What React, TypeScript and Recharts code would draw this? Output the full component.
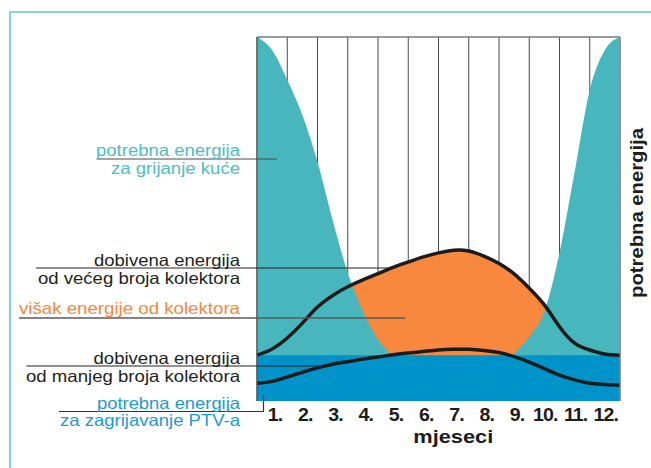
import React from "react";
import {
  ComposedChart,
  Area,
  Line,
  XAxis,
  YAxis,
  CartesianGrid,
  ReferenceLine,
} from "recharts";

// x positions in months (half-month steps), 0 = start of January
const steps = [0, 0.5, 1, 1.5, 2, 2.5, 3, 3.5, 4, 4.5, 5, 5.5, 6, 6.5, 7, 7.5, 8, 8.5, 9, 9.5, 10, 10.5, 11, 11.5, 12];

// potrebna energija za grijanje kuće
const heating = [100, 96.4, 88.2, 78.6, 65.7, 49.7, 35.2, 24.5, 16.8, 12.4, 10, 10, 10, 10, 10, 10, 10, 13.2, 17.6, 24.5, 40.7, 62.9, 85.4, 96.4, 100];
// dobivena energija od većeg broja kolektora
const bigCollectors = [12.6, 14.3, 17.3, 21.4, 25.8, 29.0, 31.4, 33.3, 35.0, 36.7, 38.2, 39.6, 40.7, 41.4, 41.2, 39.8, 37.8, 34.9, 31.0, 26.4, 20.4, 15.9, 14.0, 12.9, 12.6];
// dobivena energija od manjeg broja kolektora
const smallCollectors = [4.9, 5.4, 6.6, 7.9, 9.1, 10.1, 10.8, 11.5, 12.1, 12.7, 13.2, 13.6, 14.0, 14.2, 14.2, 13.9, 13.3, 12.2, 10.7, 8.9, 7.1, 5.8, 4.9, 4.5, 4.3];
// potrebna energija za zagrijavanje PTV-a
const hotWater = [12.6, 12.6, 12.6, 12.6, 12.6, 12.6, 12.6, 12.6, 12.6, 12.6, 12.6, 12.6, 12.6, 12.6, 12.6, 12.6, 12.6, 12.6, 12.6, 12.6, 12.6, 12.6, 12.6, 12.6, 12.6];

const monthCenters = [0.5, 1.5, 2.5, 3.5, 4.5, 5.5, 6.5, 7.5, 8.5, 9.5, 10.5, 11.5];
const monthLabels = ["1.", "2.", "3.", "4.", "5.", "6.", "7.", "8.", "9.", "10.", "11.", "12."];
const boundaries = [0, 1, 2, 3, 4, 5, 6, 7, 8, 9, 10, 11, 12];

const data = steps.map((m, i) => ({
  m,
  heating: heating[i],
  big: bigCollectors[i],
  small: smallCollectors[i],
  water: hotWater[i],
}));

const FONT = '"Liberation Sans", Arial, Helvetica, sans-serif';
const TEAL = "#47b7bd";
const ORANGE = "#f7883d";
const BLUE = "#0093c9";
const INK = "#1c1c1c";

const MonthTick = (props: any) => {
  const { x, y, payload } = props;
  const label = monthLabels[monthCenters.indexOf(payload.value)];
  const dx = label.length > 2 ? 1 : 3;
  return (
    <text
      transform={`translate(${x + dx},${y}) scale(1.12,1)`}
      dy="0.71em"
      textAnchor="middle"
      fontFamily={FONT}
      fontWeight={700}
      fontSize={17.5}
      letterSpacing={-0.8}
      fill={INK}
    >
      {label}
    </text>
  );
};

// callout texts on the left
const callouts = [
  { text: "potrebna energija", y: 156, len: 144, color: "#4dbdc4" },
  { text: "za grijanje kuće", y: 174, len: 129, color: "#4dbdc4" },
  { text: "dobivena energija", y: 265.5, len: 146, color: "#231f20" },
  { text: "od većeg broja kolektora", y: 283.5, len: 202, color: "#231f20" },
  { text: "višak energije od kolektora", y: 313.5, len: 221, color: "#f58840" },
  { text: "dobivena energija", y: 363.5, len: 146.5, color: "#231f20" },
  { text: "od manjeg broja kolektora", y: 381.5, len: 214, color: "#231f20" },
  { text: "potrebna energija", y: 408.5, len: 143, color: "#1c9ad6" },
  { text: "za zagrijavanje PTV-a", y: 426, len: 180, color: "#1c9ad6" },
];

const Overlay = () => (
  <svg
    width={651}
    height={468}
    style={{ position: "absolute", left: 0, top: 0, pointerEvents: "none" }}
  >
    {/* frame */}
    <polyline points="10,468 10,12 651,12" fill="none" stroke="#62c7c9" strokeWidth={1.6} />

    {/* leader lines */}
    <line x1={96.5} y1={159} x2={277} y2={159} stroke="#4a4a4a" strokeWidth={1.2} />
    <line x1={36} y1={268} x2={388} y2={268} stroke="#222" strokeWidth={1.2} />
    <line x1={19} y1={318} x2={405} y2={318} stroke="#5a5a5a" strokeWidth={1.6} />
    <line x1={26.5} y1={366} x2={322} y2={366} stroke="#222" strokeWidth={1.2} />
    <polyline points="59,411.5 263.5,411.5 263.5,395" fill="none" stroke="#333" strokeWidth={1.2} />

    {callouts.map((c, i) => (
      <text
        key={i}
        x={240}
        y={c.y}
        textAnchor="end"
        textLength={c.len}
        lengthAdjust="spacingAndGlyphs"
        fontFamily={FONT}
        fontSize={16.5}
        fill={c.color}
      >
        {c.text}
      </text>
    ))}

    {/* axis titles */}
    <text
      x={453.3}
      y={442.5}
      textAnchor="middle"
      textLength={80}
      lengthAdjust="spacingAndGlyphs"
      fontFamily={FONT}
      fontWeight={700}
      fontSize={19}
      fill={INK}
    >
      mjeseci
    </text>
    <text
      transform="translate(643,213) rotate(-90)"
      textAnchor="middle"
      textLength={170}
      lengthAdjust="spacingAndGlyphs"
      fontFamily={FONT}
      fontWeight={700}
      fontSize={18}
      fill={INK}
    >
      potrebna energija
    </text>
  </svg>
);

const App = () => {
  return (
    <div
      style={{
        position: "absolute",
        left: 0,
        top: 0,
        width: 651,
        height: 468,
        background: "#fff",
      }}
    >
      <ComposedChart
        width={651}
        height={468}
        data={data}
        margin={{ top: 37, right: 31, bottom: 17, left: 257 }}
      >
        {/* vertical month lines, from the hidden boundary axis */}
        <CartesianGrid xAxisId="grid" horizontal={false} stroke="#4a4a4a" strokeWidth={1} />

        <XAxis
          dataKey="m"
          type="number"
          domain={[0, 12]}
          ticks={monthCenters}
          tick={<MonthTick />}
          axisLine={false}
          tickLine={false}
          height={50}
          interval={0}
        />
        <XAxis
          xAxisId="grid"
          dataKey="m"
          type="number"
          domain={[0, 12]}
          ticks={boundaries}
          interval={0}
          hide
        />
        <YAxis type="number" domain={[0, 100]} hide allowDataOverflow />

        {/* surplus: big collectors, covered by heating where heating is larger */}
        <Area type="natural" dataKey="big" fill={ORANGE} fillOpacity={1} stroke="none" isAnimationActive={false} />
        <Area type="monotone" dataKey="heating" fill={TEAL} fillOpacity={1} stroke="none" isAnimationActive={false} />
        <Area type="linear" dataKey="water" fill={BLUE} fillOpacity={1} stroke="none" isAnimationActive={false} />

        <Line type="natural" dataKey="big" stroke={INK} strokeWidth={3.5} dot={false} isAnimationActive={false} />
        <Line type="natural" dataKey="small" stroke={INK} strokeWidth={3.5} dot={false} isAnimationActive={false} />

        {/* plot border */}
        <ReferenceLine y={100} stroke="#7a7a7a" strokeWidth={1.5} />
        <ReferenceLine x={0} stroke="#555" strokeWidth={1.2} />
        <ReferenceLine x={12} stroke="#8a8a8a" strokeWidth={1.2} />
      </ComposedChart>
      <Overlay />
    </div>
  );
};

export default App;
